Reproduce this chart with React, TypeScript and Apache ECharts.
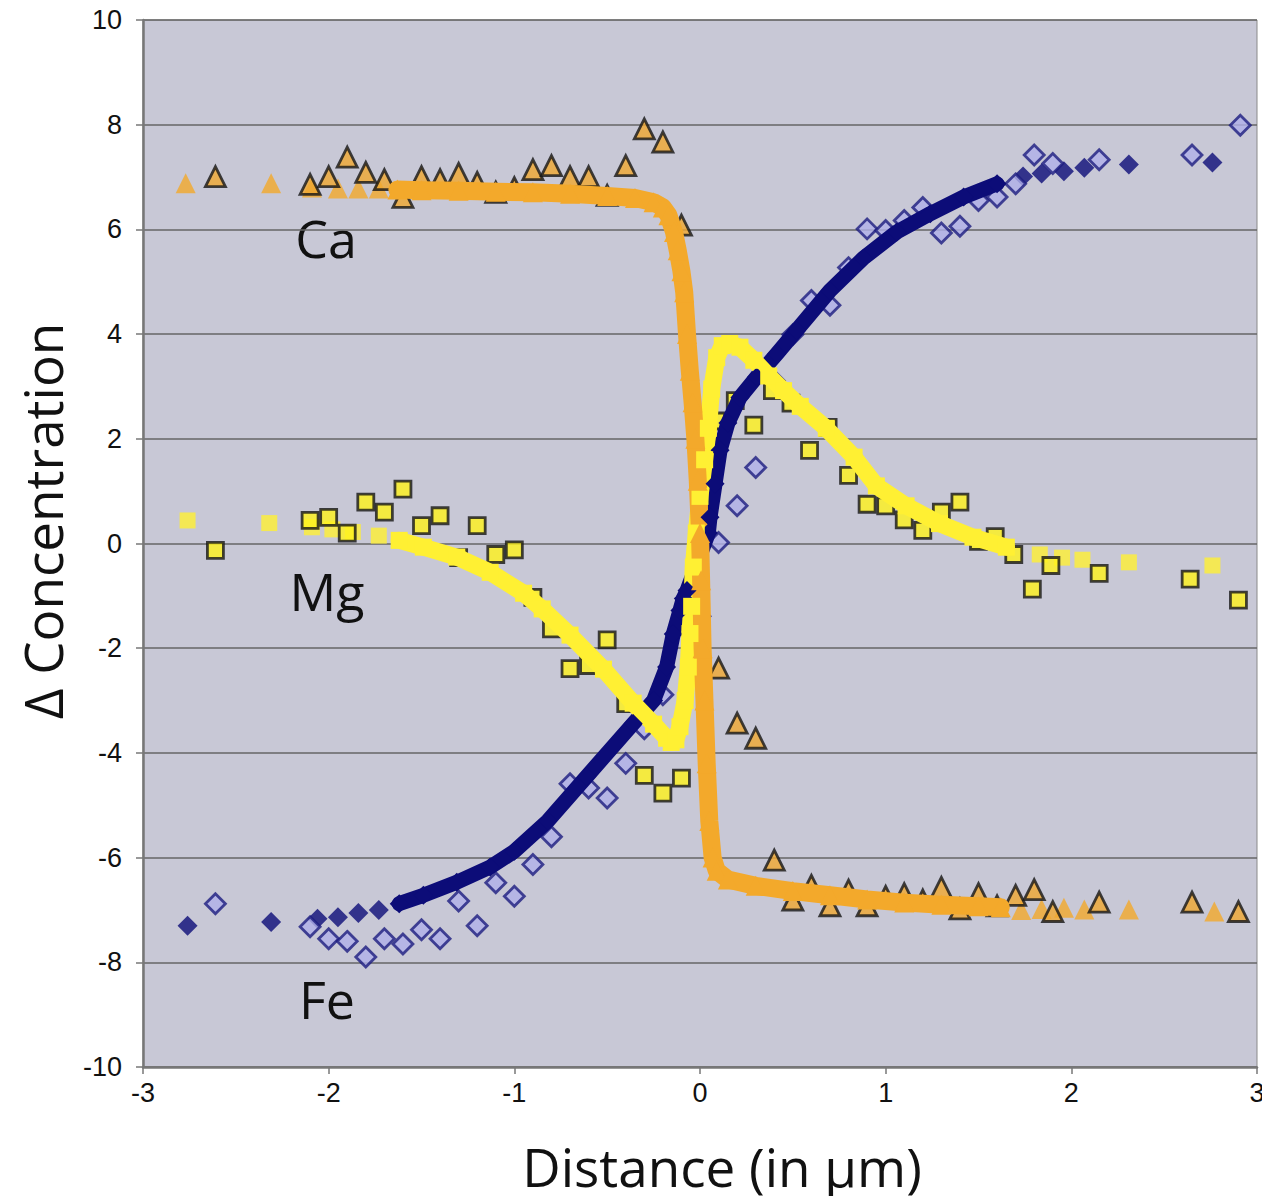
import React, { useEffect, useRef } from "react";
import * as echarts from "echarts";

// ---------- data ----------
// Model curves: dense band part and sparse end points
const caModelBand: number[][] = [
  [-1.63, 6.76], [-1.5, 6.75], [-1.3, 6.74], [-1.1, 6.72], [-0.9, 6.71], [-0.7, 6.68],
  [-0.5, 6.64], [-0.35, 6.6], [-0.25, 6.52], [-0.2, 6.42], [-0.17, 6.27], [-0.14, 5.95],
  [-0.12, 5.6], [-0.1, 5.2], [-0.085, 4.8], [-0.07, 4.0], [-0.055, 3.3], [-0.04, 2.7],
  [-0.025, 2.0], [-0.012, 1.2], [0.0, 0.2], [0.006, -0.7], [0.014, -2.0], [0.024, -3.0],
  [0.036, -4.2], [0.05, -5.3], [0.068, -6.0], [0.09, -6.25], [0.15, -6.42], [0.3, -6.54],
  [0.5, -6.64], [0.7, -6.72], [0.9, -6.8], [1.1, -6.86], [1.3, -6.9], [1.5, -6.93], [1.62, -6.95],
];
const caModelTail: number[][] = [
  [-2.77, 6.88], [-2.31, 6.88], [-2.09, 6.8], [-1.95, 6.78], [-1.84, 6.78], [-1.73, 6.78],
  [1.73, -7.0], [1.84, -6.98], [1.96, -6.96], [2.07, -6.99], [2.31, -6.99], [2.77, -7.03],
];
const mgModelBand: number[][] = [
  [-1.62, 0.06], [-1.49, -0.07], [-1.31, -0.26], [-1.13, -0.55], [-0.95, -0.95], [-0.85, -1.25],
  [-0.7, -1.75], [-0.52, -2.4], [-0.36, -3.05], [-0.25, -3.45], [-0.18, -3.72], [-0.155, -3.8],
  [-0.13, -3.75], [-0.108, -3.5], [-0.08, -3.0], [-0.063, -2.36], [-0.054, -1.72], [-0.045, -1.2],
  [-0.036, -0.45], [-0.02, 0.2], [0.0, 0.9], [0.025, 1.6], [0.045, 2.2], [0.063, 2.95],
  [0.09, 3.55], [0.12, 3.78], [0.16, 3.82], [0.215, 3.75], [0.29, 3.5], [0.37, 3.2],
  [0.45, 2.92], [0.54, 2.62], [0.68, 2.2], [0.83, 1.65], [0.95, 1.1], [1.11, 0.72],
  [1.29, 0.38], [1.47, 0.12], [1.65, -0.07],
];
const mgModelTail: number[][] = [
  [-2.76, 0.44], [-2.32, 0.39], [-2.09, 0.31], [-1.98, 0.27], [-1.87, 0.22], [-1.73, 0.15],
  [1.83, -0.21], [1.95, -0.27], [2.06, -0.31], [2.31, -0.36], [2.76, -0.42],
];
const feModelBand: number[][] = [
  [-1.62, -6.88], [-1.49, -6.72], [-1.31, -6.47], [-1.13, -6.18], [-1.0, -5.88], [-0.82, -5.3],
  [-0.61, -4.45], [-0.36, -3.44], [-0.25, -3.0], [-0.18, -2.36], [-0.144, -1.73], [-0.108, -1.28],
  [-0.09, -1.05], [-0.07, -0.9], [0.045, 0.2], [0.054, 0.5], [0.081, 1.14], [0.108, 1.78],
  [0.15, 2.3], [0.215, 2.79], [0.305, 3.18], [0.413, 3.62], [0.52, 4.07], [0.7, 4.83],
  [0.88, 5.45], [1.06, 5.95], [1.24, 6.3], [1.42, 6.62], [1.6, 6.87],
];
const feModelTail: number[][] = [
  [-2.76, -7.3], [-2.31, -7.23], [-2.06, -7.17], [-1.95, -7.14], [-1.84, -7.06], [-1.73, -7.0],
  [1.74, 7.01], [1.84, 7.07], [1.96, 7.11], [2.07, 7.18], [2.31, 7.24], [2.76, 7.28],
];

// Measured data points
const caData: number[][] = [
  [-2.61, 7.01], [-2.1, 6.86], [-2.0, 7.01], [-1.9, 7.38], [-1.8, 7.09], [-1.7, 6.95],
  [-1.6, 6.61], [-1.5, 7.01], [-1.4, 6.95], [-1.3, 7.07], [-1.2, 6.9], [-1.1, 6.71],
  [-1.0, 6.8], [-0.9, 7.14], [-0.8, 7.22], [-0.7, 7.01], [-0.6, 7.01], [-0.5, 6.65],
  [-0.4, 7.22], [-0.3, 7.92], [-0.2, 7.67], [-0.1, 6.08], [0.0, 2.22], [0.1, -2.38],
  [0.2, -3.43], [0.3, -3.72], [0.4, -6.05], [0.5, -6.81], [0.6, -6.53], [0.7, -6.92],
  [0.8, -6.62], [0.9, -6.92], [1.0, -6.74], [1.1, -6.69], [1.2, -6.81], [1.3, -6.57],
  [1.4, -6.98], [1.5, -6.69], [1.6, -6.92], [1.7, -6.72], [1.8, -6.61], [1.9, -7.03],
  [2.15, -6.85], [2.65, -6.85], [2.9, -7.03],
];
const mgData: number[][] = [
  [-2.61, -0.13], [-2.1, 0.44], [-2.0, 0.5], [-1.9, 0.2], [-1.8, 0.79], [-1.7, 0.6],
  [-1.6, 1.04], [-1.5, 0.34], [-1.4, 0.53], [-1.3, -0.27], [-1.2, 0.34], [-1.1, -0.21],
  [-1.0, -0.12], [-0.9, -1.03], [-0.8, -1.63], [-0.7, -2.39], [-0.6, -2.33], [-0.5, -1.84],
  [-0.4, -3.06], [-0.3, -4.43], [-0.2, -4.77], [-0.1, -4.48], [0.0, -0.83], [0.09, 2.34],
  [0.19, 2.73], [0.29, 2.26], [0.39, 2.92], [0.49, 2.68], [0.59, 1.78], [0.69, 2.22],
  [0.8, 1.3], [0.9, 0.75], [1.0, 0.72], [1.1, 0.45], [1.2, 0.25], [1.3, 0.6],
  [1.4, 0.79], [1.5, 0.04], [1.59, 0.13], [1.69, -0.21], [1.79, -0.87], [1.89, -0.42],
  [2.15, -0.57], [2.64, -0.68], [2.9, -1.08],
];
const feData: number[][] = [
  [-2.61, -6.88], [-2.1, -7.32], [-2.0, -7.55], [-1.9, -7.6], [-1.8, -7.9], [-1.7, -7.55],
  [-1.6, -7.65], [-1.5, -7.38], [-1.4, -7.55], [-1.3, -6.83], [-1.2, -7.3], [-1.1, -6.48],
  [-1.0, -6.74], [-0.9, -6.13], [-0.8, -5.6], [-0.7, -4.59], [-0.6, -4.67], [-0.5, -4.86],
  [-0.4, -4.2], [-0.3, -3.54], [-0.2, -2.89], [-0.1, -1.55], [0.0, -1.39], [0.1, 0.02],
  [0.2, 0.72], [0.3, 1.45], [0.4, 3.11], [0.5, 3.99], [0.6, 4.64], [0.7, 4.55],
  [0.8, 5.27], [0.9, 6.01], [1.0, 5.98], [1.1, 6.17], [1.2, 6.42], [1.3, 5.93],
  [1.4, 6.06], [1.5, 6.55], [1.6, 6.62], [1.7, 6.87], [1.8, 7.42], [1.9, 7.26],
  [2.15, 7.33], [2.65, 7.42], [2.91, 7.99],
];

const elementLabels = ["Ca", "Mg", "Fe"];
const xTitle = "Distance (in μm)";
const yTitle = "Δ Concentration";

const ORANGE = "#f3a92b";
const YELLOW = "#fff033";
const NAVY = "#0c0c78";

export default function App() {
  const ref = useRef<HTMLDivElement>(null);

  useEffect(() => {
    if (!ref.current) return;
    const chart = echarts.init(ref.current, undefined, { renderer: "svg" });

    const band = (data: number[][], color: string, symbol: string, size: number, width: number) => ({
      type: "line",
      data,
      symbol,
      symbolSize: size,
      showSymbol: true,
      lineStyle: { color, width, cap: "round", join: "round" },
      itemStyle: { color },
      silent: true,
    });
    const tail = (data: number[][], color: string, symbol: string, size: number) => ({
      type: "scatter",
      data,
      symbol,
      symbolSize: size,
      itemStyle: { color },
      silent: true,
    });

    const labelFont = "'Open Sans', 'Noto Sans', sans-serif";
    const tickFont = "'Liberation Sans', Arial, sans-serif";

    chart.setOption({
      animation: false,
      backgroundColor: "#ffffff",
      grid: {
        left: 143,
        right: 13,
        top: 20,
        bottom: 137,
        show: true,
        backgroundColor: "#c8c8d6",
        borderColor: "#8a8a8a",
        borderWidth: 1,
      },
      xAxis: {
        type: "value",
        min: -3,
        max: 3,
        interval: 1,
        axisLine: { show: true, onZero: false, lineStyle: { color: "#777", width: 2.5 } },
        axisTick: { show: true, length: 7, lineStyle: { color: "#777", width: 1.5 } },
        axisLabel: { fontFamily: tickFont, fontSize: 27, color: "#111", margin: 12 },
        splitLine: { show: false },
      },
      yAxis: {
        type: "value",
        min: -10,
        max: 10,
        interval: 2,
        axisLine: { show: true, onZero: false, lineStyle: { color: "#777", width: 2.5 } },
        axisTick: { show: true, length: 7, lineStyle: { color: "#777", width: 1.5 } },
        axisLabel: { fontFamily: tickFont, fontSize: 27, color: "#111", margin: 21 },
        splitLine: { show: true, lineStyle: { color: "#666", width: 1.5 } },
      },
      series: [
        band(feModelBand, NAVY, "diamond", 19, 15),
        tail(feModelTail, NAVY, "diamond", 20),
        band(mgModelBand, YELLOW, "rect", 17, 17),
        tail(mgModelTail, YELLOW, "rect", 16),
        band(caModelBand, ORANGE, "triangle", 20, 18),
        tail(caModelTail, ORANGE, "triangle", 20),
        {
          type: "scatter",
          data: feData,
          symbol: "diamond",
          symbolSize: 20,
          itemStyle: { color: "#b0b0e8", borderColor: "#1d1d80", borderWidth: 2.8 },
        },
        {
          type: "scatter",
          data: mgData,
          symbol: "rect",
          symbolSize: 16,
          itemStyle: { color: "#fff21a", borderColor: "#151515", borderWidth: 2.8 },
        },
        {
          type: "scatter",
          data: caData,
          symbol: "triangle",
          symbolSize: 20,
          itemStyle: { color: "#f0a830", borderColor: "#151515", borderWidth: 2.8 },
        },
      ],
      graphic: [
        { type: "text", x: 326, y: 237, style: { text: elementLabels[0], font: `52px ${labelFont}`, fill: "#111", align: "center", verticalAlign: "middle" } },
        { type: "text", x: 327, y: 590, style: { text: elementLabels[1], font: `52px ${labelFont}`, fill: "#111", align: "center", verticalAlign: "middle" } },
        { type: "text", x: 327, y: 998, style: { text: elementLabels[2], font: `52px ${labelFont}`, fill: "#111", align: "center", verticalAlign: "middle" } },
        { type: "text", x: 722, y: 1166, style: { text: xTitle, font: `53px ${labelFont}`, fill: "#111", align: "center", verticalAlign: "middle" } },
        { type: "text", x: 42, y: 521, rotation: Math.PI / 2, style: { text: yTitle, font: `53px ${labelFont}`, fill: "#111", align: "center", verticalAlign: "middle" } },
      ],
    });

    return () => chart.dispose();
  }, []);

  return <div ref={ref} style={{ width: 1270, height: 1204, margin: -8 }} />;
}
